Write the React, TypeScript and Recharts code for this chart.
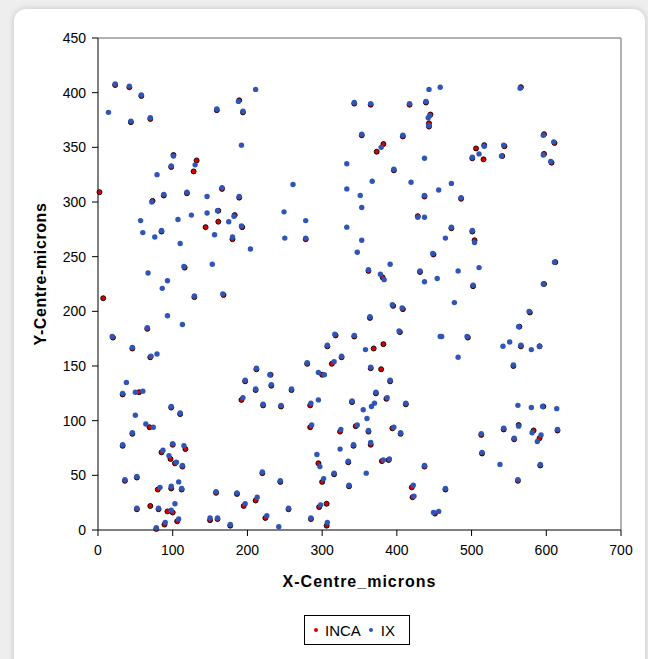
import React from 'react';
import { ScatterChart, Scatter, XAxis, YAxis, ReferenceLine, Label } from 'recharts';

// IX centres (x, y in microns)
const ixPoints: [number, number][] = [
  [23, 408], [42, 406], [58, 398], [14, 382], [44, 374], [70, 377], [211, 403], [188, 392], [159, 385], [194, 383],
  [192, 352], [101, 342], [98, 333], [130, 334], [79, 325], [166, 313], [88, 307], [119, 309], [146, 305], [189, 305],
  [443, 403], [458, 405], [343, 391], [365, 390], [417, 390], [439, 392], [444, 379], [442, 377], [443, 370], [353, 362],
  [408, 361], [379, 350], [333, 335], [437, 340], [396, 330], [261, 316], [333, 312], [367, 319], [419, 318], [351, 306],
  [437, 306], [456, 311],
  [565, 404], [596, 361], [610, 355], [517, 351], [543, 352], [501, 341], [510, 344], [540, 342], [596, 343], [606, 337],
  [473, 317], [486, 304],
  [72, 300], [57, 283], [107, 284], [125, 288], [146, 290], [160, 292], [182, 287], [60, 272], [85, 274], [76, 268],
  [110, 262], [175, 282], [192, 278], [156, 270], [180, 268], [204, 257], [115, 241], [153, 243], [67, 235], [93, 228],
  [86, 221], [129, 214], [167, 216], [93, 196], [113, 188], [66, 185], [19, 177], [46, 167], [71, 159], [79, 161],
  [249, 291], [278, 283], [353, 295], [250, 267], [278, 267], [333, 277], [353, 265], [428, 286], [437, 286], [347, 254],
  [448, 253], [391, 243], [362, 238], [378, 234], [383, 229], [431, 237], [437, 227], [454, 230], [394, 206], [407, 203],
  [364, 195], [403, 182], [317, 179], [343, 178], [307, 169], [358, 165], [326, 159], [458, 177],
  [473, 277], [501, 274], [465, 267], [504, 263], [611, 245], [482, 237], [510, 240], [502, 224], [596, 225], [477, 208],
  [577, 200], [563, 186], [460, 177], [494, 177], [542, 168], [551, 172], [566, 169], [580, 165], [591, 168], [482, 158],
  [38, 135], [33, 125], [50, 126], [60, 127], [50, 105], [64, 97], [74, 94], [46, 89], [33, 78], [36, 46],
  [52, 49], [52, 20], [81, 20], [78, 2], [98, 113], [110, 107], [100, 79], [115, 77], [87, 73], [95, 68],
  [105, 62], [113, 59], [83, 39], [98, 40], [108, 44], [112, 38], [103, 24], [98, 18], [90, 7], [108, 10],
  [158, 35], [186, 34], [197, 24], [213, 30], [150, 11], [160, 11], [177, 5], [226, 13], [197, 137], [212, 148],
  [211, 129], [194, 121], [221, 115], [220, 53],
  [280, 153], [316, 154], [365, 149], [295, 144], [303, 142], [391, 137], [230, 142], [232, 133], [259, 129], [372, 126],
  [387, 121], [245, 114], [285, 116], [295, 119], [340, 118], [355, 110], [366, 113], [370, 116], [412, 116], [360, 102],
  [286, 96], [325, 92], [347, 96], [362, 91], [396, 94], [405, 89], [342, 78], [365, 80], [324, 74], [293, 69],
  [297, 58], [335, 63], [382, 64], [390, 65], [437, 59], [244, 45], [302, 47], [316, 52], [336, 41], [359, 52],
  [422, 41], [423, 31], [255, 20], [298, 23], [285, 11], [242, 3], [307, 7], [449, 16], [456, 17],
  [556, 151], [562, 114], [580, 112], [595, 113], [614, 111], [513, 88], [543, 93], [563, 95], [581, 89], [593, 87],
  [588, 81], [557, 84], [615, 92], [514, 71], [538, 60], [592, 60], [562, 46], [465, 38],
];

// INCA centres (x, y in microns)
const incaPoints: [number, number][] = [
  [23, 407], [42, 405], [58, 397], [44, 373], [70, 376], [189, 393], [159, 384], [194, 382], [101, 343], [98, 332],
  [132, 338], [128, 328], [166, 312], [88, 306], [119, 308], [189, 304], [2, 309],
  [343, 390], [365, 389], [417, 389], [439, 391], [445, 380], [443, 372], [443, 369], [353, 361], [408, 360],
  [382, 353], [373, 346], [396, 329], [437, 305],
  [566, 405], [597, 362], [611, 354], [506, 349], [517, 352], [544, 351], [501, 340], [516, 339], [541, 342], [597, 344],
  [607, 336], [486, 303],
  [73, 301], [161, 292], [183, 288], [85, 273], [144, 277], [161, 282], [193, 277], [180, 266], [116, 240], [129, 213],
  [168, 215], [7, 212], [66, 184], [20, 176], [46, 166], [70, 158],
  [278, 266], [428, 287], [449, 252], [362, 237], [381, 231], [431, 236], [395, 205], [408, 202], [364, 194], [404, 181],
  [318, 178], [343, 177], [307, 168], [369, 166], [382, 170], [326, 158],
  [473, 276], [501, 273], [504, 265], [612, 245], [502, 223], [597, 225], [578, 199], [564, 186], [495, 176], [566, 168],
  [591, 168],
  [33, 124], [55, 126], [69, 94], [46, 88], [33, 77], [36, 45], [52, 48], [52, 19], [70, 22], [81, 19],
  [78, 1], [98, 112], [110, 106], [100, 78], [117, 74], [85, 71], [97, 65], [103, 61], [113, 58], [80, 37],
  [98, 38], [112, 37], [93, 17], [100, 16], [89, 5], [106, 8], [158, 34], [186, 33], [195, 22], [211, 27],
  [150, 9], [160, 10], [177, 4], [224, 11], [197, 136], [212, 147], [211, 128], [192, 119], [221, 114], [220, 52],
  [280, 152], [313, 152], [365, 148], [379, 147], [300, 142], [391, 136], [231, 142], [232, 132], [259, 128], [372, 125],
  [386, 120], [245, 113], [284, 114], [340, 117], [412, 115], [284, 94], [324, 90], [345, 95], [362, 90], [394, 93],
  [405, 88], [342, 77], [365, 78], [295, 61], [335, 62], [380, 63], [389, 64], [437, 58], [244, 44], [300, 44],
  [316, 51], [336, 40], [420, 39], [421, 30], [255, 19], [296, 21], [306, 24], [285, 10], [306, 4], [451, 15],
  [556, 150], [596, 113], [513, 87], [543, 92], [563, 96], [583, 91], [591, 84], [557, 83], [615, 91], [514, 70],
  [592, 59], [562, 45], [465, 37],
];

const xTicks = [0, 100, 200, 300, 400, 500, 600, 700];
const yTicks = [0, 50, 100, 150, 200, 250, 300, 350, 400, 450];

const INCA_COLOR = '#dd0000';
const IX_COLOR = '#2f55b8';
const FONT = '"Liberation Sans", Arial, sans-serif';

const toRows = (pts: [number, number][]) => pts.map(([x, y]) => ({ x, y }));

const IncaDot = (props: any) => (
  <circle cx={props.cx} cy={props.cy} r={2.5} fill={INCA_COLOR} stroke="#000" strokeWidth={0.9} />
);
const IxDot = (props: any) => <circle cx={props.cx} cy={props.cy} r={2.7} fill={IX_COLOR} />;

const YTitle = () => (
  <text
    x={40}
    y={274}
    transform="rotate(-90 40 274)"
    textAnchor="middle"
    dominantBaseline="central"
    fontFamily={FONT}
    fontWeight="bold"
    fontSize={16}
    letterSpacing={0.6}
    fill="#000"
  >
    Y-Centre-microns
  </text>
);

export default function App() {
  const tickStyle = { fontFamily: FONT, fontSize: 14, fill: '#000' };
  return (
    <div style={{ position: 'absolute', left: 0, top: 0, width: 648, height: 659, background: '#eeeeee', overflow: 'hidden' }}>
      <div
        style={{
          position: 'absolute',
          left: 14,
          top: 9,
          width: 631,
          height: 680,
          background: '#fff',
          borderRadius: 12,
          boxShadow: '0 0 6px rgba(0,0,0,0.18)',
        }}
      />
      <div style={{ position: 'absolute', left: 0, top: 0 }}>
        <ScatterChart width={648} height={659} margin={{ top: 38, right: 27, bottom: 99, left: 38 }}>
          <XAxis
            type="number"
            dataKey="x"
            domain={[0, 700]}
            ticks={xTicks}
            height={30}
            tick={tickStyle}
            tickSize={6}
            tickMargin={9}
            axisLine={{ stroke: '#555', strokeWidth: 1.5 }}
            tickLine={{ stroke: '#000' }}
          >
            <Label
              value="X-Centre_microns"
              position="bottom"
              offset={16}
              style={{ fontFamily: FONT, fontWeight: 'bold', fontSize: 16, letterSpacing: 1, fill: '#000' }}
            />
          </XAxis>
          <YAxis
            type="number"
            dataKey="y"
            domain={[0, 450]}
            ticks={yTicks}
            width={60}
            tick={tickStyle}
            tickSize={6}
            tickMargin={6}
            axisLine={{ stroke: '#555', strokeWidth: 1.5 }}
            tickLine={{ stroke: '#000' }}
          >
            <Label content={<YTitle />} />
          </YAxis>
          <ReferenceLine y={450} stroke="#999" strokeWidth={1.5} />
          <ReferenceLine x={700} stroke="#999" strokeWidth={1.5} />
          <Scatter name="INCA" data={toRows(incaPoints)} shape={<IncaDot />} isAnimationActive={false} />
          <Scatter name="IX" data={toRows(ixPoints)} shape={<IxDot />} isAnimationActive={false} />
        </ScatterChart>
      </div>
      <div
        style={{
          position: 'absolute',
          left: 304,
          top: 615,
          width: 104,
          height: 28,
          border: '1px solid #000',
          background: '#fff',
          display: 'flex',
          alignItems: 'center',
          fontFamily: FONT,
          fontSize: 15,
          color: '#000',
        }}
      >
        <span style={{ width: 4, height: 4, borderRadius: 2, background: INCA_COLOR, marginLeft: 9 }} />
        <span style={{ marginLeft: 7 }}>INCA</span>
        <span style={{ width: 4, height: 4, borderRadius: 2, background: IX_COLOR, marginLeft: 8 }} />
        <span style={{ marginLeft: 8 }}>IX</span>
      </div>
    </div>
  );
}
